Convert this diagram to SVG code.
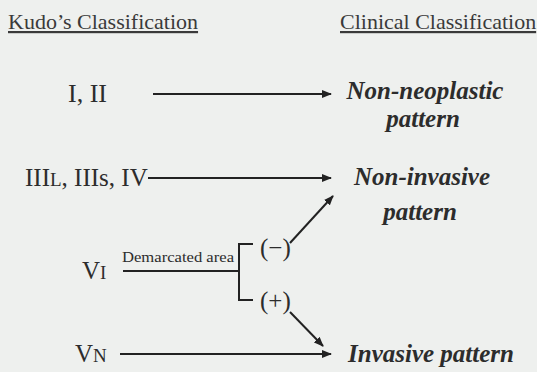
<svg xmlns="http://www.w3.org/2000/svg" width="537" height="372" viewBox="0 0 537 372">
<defs>
<marker id="ah" viewBox="0 0 10 8" refX="9" refY="4" markerWidth="10" markerHeight="8" markerUnits="userSpaceOnUse" orient="auto">
<path d="M0,0 L10,4 L0,8 z" fill="#222"/>
</marker>
<style>
text{fill:#2c2c2c}
.h{font-size:22px;text-decoration:underline;fill:#3a3a3a}
.k{font-size:25px}
.sc{font-size:19px}
.c{font-size:25px;font-weight:bold;font-style:italic}
.d{font-size:15px}
.ln{stroke:#222;stroke-width:2;fill:none}
.ar{stroke:#222;stroke-width:2;fill:none;marker-end:url(#ah)}
</style>
</defs>
<rect width="537" height="372" fill="#eef0ee"/>
<g id="header-kudo"><text class="h" style="font-family:'Liberation Serif',serif" x="8" y="29">Kudo’s Classification</text></g>
<g id="header-clinical"><text class="h" style="font-family:'Liberation Serif',serif" x="340" y="29">Clinical Classification</text></g>
<g id="kudo-1-2"><text class="k" style="font-family:'Liberation Serif',serif;font-size:26px" x="68" y="102">I, II</text></g>
<g id="kudo-3-4"><text class="k" style="font-family:'Liberation Serif',serif" x="25" y="186">III<tspan class="sc">L</tspan>, III<tspan>s</tspan>, IV</text></g>
<g id="kudo-vi"><text class="k" style="font-family:'Liberation Serif',serif" x="82" y="279">V<tspan class="sc">I</tspan></text></g>
<g id="kudo-vn"><text class="k" style="font-family:'Liberation Serif',serif" x="75" y="362">V<tspan class="sc">N</tspan></text></g>
<g id="clin-nonneo"><text class="c" style="font-family:'Liberation Serif',serif" x="425" y="99" text-anchor="middle">Non-neoplastic</text><text class="c" style="font-family:'Liberation Serif',serif" x="423" y="127" text-anchor="middle">pattern</text></g>
<g id="clin-noninv"><text class="c" style="font-family:'Liberation Serif',serif" x="422" y="185" text-anchor="middle">Non-invasive</text><text class="c" style="font-family:'Liberation Serif',serif" x="420" y="220" text-anchor="middle">pattern</text></g>
<g id="clin-inv"><text class="c" style="font-family:'Liberation Serif',serif" x="348" y="362">Invasive pattern</text></g>
<g id="branch">
<text class="d" style="font-family:'Liberation Serif',serif" x="122" y="262" textLength="112" lengthAdjust="spacingAndGlyphs">Demarcated area</text>
<text class="k" style="font-family:'Liberation Serif',serif" x="260" y="256">(−)</text>
<text class="k" style="font-family:'Liberation Serif',serif" x="260" y="309">(+)</text>
</g>
<g id="connectors">
<line class="ar" x1="153" y1="94" x2="331" y2="94"/>
<line class="ar" x1="148" y1="178" x2="331" y2="178"/>
<line class="ln" x1="123" y1="271" x2="239" y2="271"/>
<path class="ln" d="M253,244 H239 V300 H253"/>
<line class="ar" x1="290" y1="243" x2="333" y2="196"/>
<line class="ar" x1="290" y1="312" x2="323" y2="346"/>
<line class="ar" x1="120" y1="354" x2="331" y2="354"/>
</g>
</svg>
